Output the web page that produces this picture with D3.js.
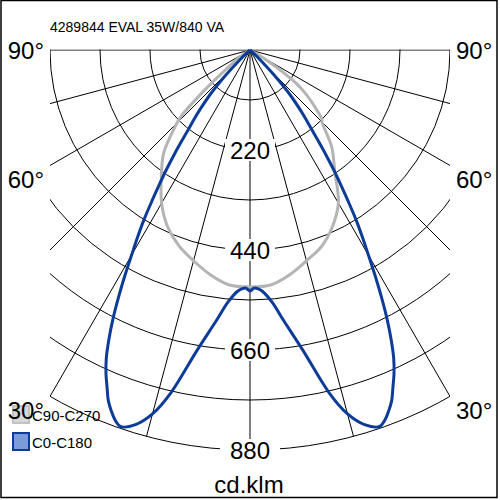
<!DOCTYPE html>
<html><head><meta charset="utf-8">
<script src="https://cdn.jsdelivr.net/npm/d3@7"></script>
<style>html,body{margin:0;padding:0;background:#fff}</style>
</head><body>
<svg id="c" width="500" height="500"></svg>
<script>
// ---- data ----
const title = "4289844 EVAL 35W/840 VA";
const unitLabel = "cd.klm";
const ringValues = [110, 220, 330, 440, 550, 660, 770, 880];
const ringLabels = [220, 440, 660, 880];
const spokeAngles = [-90, -75, -60, -45, -30, -15, 0, 15, 30, 45, 60, 75, 90];
const angleLabels = ["90°", "60°", "30°"];
const angleLabelValues = [90, 60, 30];
const seriesNames = ["C90-C270", "C0-C180"];

// C0-C180 (blue), gamma in degrees
const blueGamma = [0,1,2,3,5,7,10,13,15,17,19,20,21,22,23,24,25,26,27,28,29,30,31,32,33,34,35,36,37,38,39,40,42,44,46,48,50];
const c0   = [530,524,526,532,557,598,671,774,829,862,876,867,851,832,805,779,748,708,664,616,568,521,480,440,396,356,319,282,246,216,194,172,128,77,33,11,0];
const c180 = [530,524,526,532,557,598,671,774,829,862,876,867,851,832,805,779,748,708,664,616,568,521,480,440,396,356,319,282,246,216,194,172,128,77,33,11,0];

// C90-C270 (grey)
const grayGamma = [0,5,10,15,20,25,30,35,40,45,46,48,50,52,54,56,58,60,65];
const c90  = [521,519,502,480,460,429,389,325,280,224,220,198,176,154,128,88,48,22,0];
const c270 = [521,519,502,480,458,429,389,340,295,227,213,150,92,55,40,22,13,7,0];

// ---- layout ----
const svg = d3.select("#c");
const cx = 250, cy = 50;
const r = d3.scaleLinear().domain([0, 880]).range([0, 400]);
const rad = d => d * Math.PI / 180;

svg.append("rect").attr("x", 1).attr("y", 0.5).attr("width", 496).attr("height", 497)
  .attr("fill", "#fff").attr("stroke", "#000").attr("stroke-width", 1.5);

svg.append("defs").append("clipPath").attr("id", "plotclip")
  .append("rect").attr("x", 50).attr("y", 49.5).attr("width", 400).attr("height", 420);

const grid = svg.append("g").attr("clip-path", "url(#plotclip)")
  .attr("fill", "none").attr("stroke", "#000").attr("stroke-width", 1);

grid.selectAll("circle").data(ringValues).join("circle")
  .attr("cx", cx).attr("cy", cy).attr("r", d => r(d));

grid.selectAll("line").data(spokeAngles).join("line")
  .attr("x1", cx).attr("y1", cy)
  .attr("x2", d => cx + r(880) * Math.sin(rad(d)))
  .attr("y2", d => cy + r(880) * Math.cos(rad(d)));

// curves
function buildPoints(gam, left, right) {
  const p = [];
  for (let i = gam.length - 1; i >= 1; i--) p.push([-gam[i], left[i]]);
  p.push([0, (left[0] + right[0]) / 2]);
  for (let i = 1; i < gam.length; i++) p.push([gam[i], right[i]]);
  // collapse consecutive zero points
  const out = [];
  p.forEach((q, i) => {
    if (q[1] === 0 && out.length && out[out.length - 1][1] === 0) return;
    out.push(q);
  });
  return out;
}
const line = d3.line()
  .x(d => cx + r(d[1]) * Math.sin(rad(d[0])))
  .y(d => cy + r(d[1]) * Math.cos(rad(d[0])))
  .curve(d3.curveCatmullRom.alpha(0.5));

svg.append("path").datum(buildPoints(grayGamma, c270, c90))
  .attr("d", line).attr("fill", "none").attr("stroke", "#b4b4b4").attr("stroke-width", 3)
  .attr("stroke-linejoin", "round");
svg.append("path").datum(buildPoints(blueGamma, c180, c0))
  .attr("d", line).attr("fill", "none").attr("stroke", "#0d3c98").attr("stroke-width", 3)
  .attr("stroke-linejoin", "round");

// ring labels with white background
const font = "Liberation Sans, Arial, sans-serif";
const lg = svg.append("g");
ringLabels.forEach((v, i) => {
  const y = cy + r(v);
  const w = i === ringLabels.length - 1 ? 60 : 50;
  lg.append("rect").attr("x", cx - w / 2).attr("y", y - 11).attr("width", w).attr("height", 22).attr("fill", "#fff");
  lg.append("text").attr("x", cx).attr("y", y + 8.5).attr("text-anchor", "middle")
    .attr("font-family", font).attr("font-size", 24).attr("fill", "#000").text(v);
});

// title and unit
svg.append("text").attr("x", 50).attr("y", 32).attr("font-family", font).attr("font-size", 14)
  .attr("fill", "#000").text(title);
svg.append("text").attr("x", 249).attr("y", 493).attr("text-anchor", "middle").attr("font-family", font)
  .attr("font-size", 24).attr("fill", "#000").text(unitLabel);

// legend
const legColors = [["#d6d6d6", "#c2c2c2"], ["#7b9bd9", "#0d3c98"]];
seriesNames.forEach((n, i) => {
  const y = 405 + i * 27;
  svg.append("rect").attr("x", 13).attr("y", y + 1).attr("width", 16).attr("height", 17)
    .attr("fill", legColors[i][0]).attr("stroke", legColors[i][1]).attr("stroke-width", 2);
  svg.append("text").attr("x", 32).attr("y", y + 16).attr("font-family", font).attr("font-size", 15)
    .attr("fill", "#000").text(n);
});

// angle labels
const angBase = {90: 59, 60: 188, 30: 419};
angleLabelValues.forEach((a, i) => {
  svg.append("text").attr("x", 44).attr("y", angBase[a]).attr("text-anchor", "end")
    .attr("font-family", font).attr("font-size", 24).attr("fill", "#000").text(angleLabels[i]);
  svg.append("text").attr("x", 456).attr("y", angBase[a]).attr("text-anchor", "start")
    .attr("font-family", font).attr("font-size", 24).attr("fill", "#000").text(angleLabels[i]);
});
</script>
</body></html>
